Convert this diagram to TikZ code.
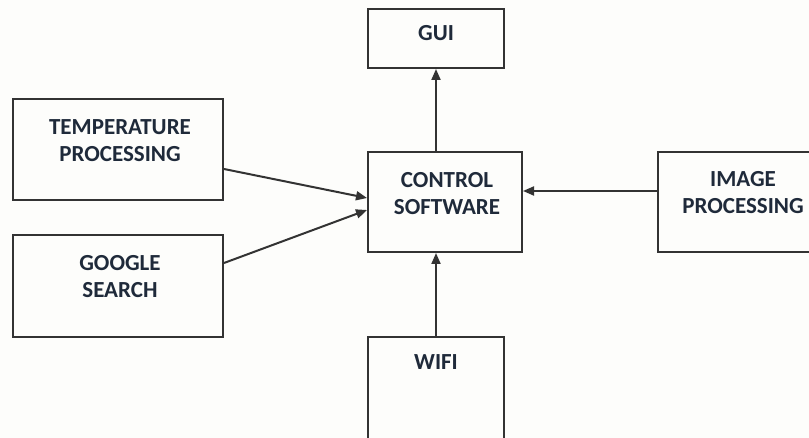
\documentclass[tikz,border=0pt]{standalone}
\usepackage{fontspec}
\setmainfont{Carlito}
\usetikzlibrary{arrows.meta}
\definecolor{ln}{HTML}{333333}
\definecolor{bg}{HTML}{FDFDFB}
\definecolor{tx}{HTML}{1F2A3A}
\tikzset{
  box/.style={draw=ln, line width=2pt, rectangle, inner sep=0pt},
  lbl/.style={font=\bfseries\fontsize{23}{27}\selectfont, text=tx, align=center, inner sep=0pt},
  conn/.style={draw=ln, line width=2pt, -{Triangle[length=11pt,width=9pt]}}
}
\begin{document}
\begin{tikzpicture}[x=1pt,y=-1pt]
\fill[bg] (0,0) rectangle (809,438);
\useasboundingbox (0,0) rectangle (809,438);
\clip (0,0) rectangle (809,438);
% boxes
\node[box, minimum width=210pt, minimum height=101pt] (temp) at (118,149.5) {};
\node[box, minimum width=210pt, minimum height=102pt] (google) at (118,286) {};
\node[box, minimum width=136pt, minimum height=59pt] (gui) at (436,38.5) {};
\node[box, minimum width=154pt, minimum height=100pt] (ctrl) at (445,202) {};
\node[box, minimum width=172pt, minimum height=100pt] (img) at (744,202) {};
\node[box, minimum width=136pt, minimum height=120pt] (wifi) at (436,397) {};
% labels
\node[lbl] (ttemp) at (120,140.5) {TEMPERATURE\\PROCESSING};
\node[lbl] (tgoogle) at (120,277) {GOOGLE\\SEARCH};
\node[lbl] (tgui) at (436,33) {GUI};
\node[lbl] (tctrl) at (447,193.5) {CONTROL\\SOFTWARE};
\node[lbl] (timg) at (743,193) {IMAGE\\PROCESSING};
\node[lbl] (twifi) at (436,362) {WIFI};
% connectors
\draw[conn] ([yshift=-19.5pt]temp.east) -- ([yshift=4pt]ctrl.west);
\draw[conn] ([yshift=23pt]google.east) -- ([yshift=-8pt]ctrl.west);
\draw[conn] ([yshift=11pt]img.west) -- ([yshift=11pt]ctrl.east);
\draw[conn] ([xshift=-9pt]ctrl.north) -- (gui.south);
\draw[conn] (wifi.north) -- ([xshift=-9pt]ctrl.south);
\end{tikzpicture}
\end{document}
